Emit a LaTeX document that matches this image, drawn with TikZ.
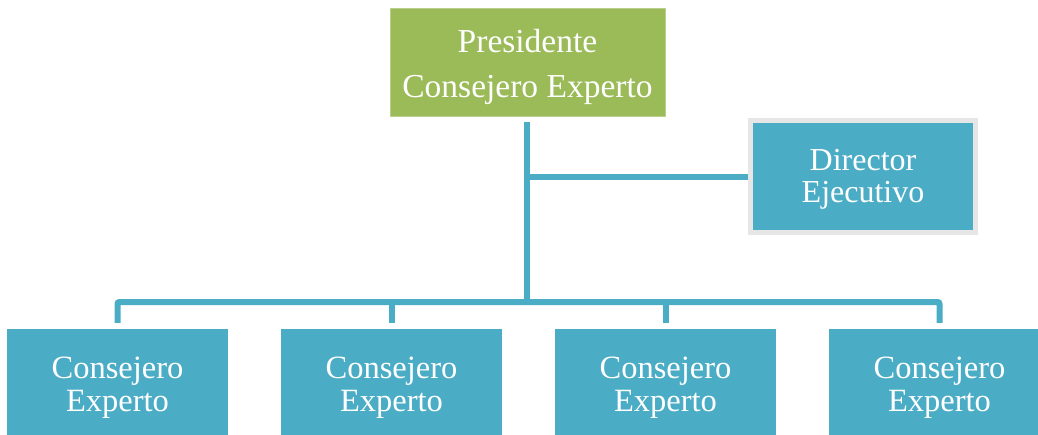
\documentclass[tikz,border=0pt]{standalone}
\usepackage{fontspec}
\setmainfont{Liberation Serif}
\definecolor{presgreen}{HTML}{9BBB59}
\definecolor{tealc}{HTML}{4BACC6}
\definecolor{framegray}{HTML}{E6E6E6}
\newcommand{\twolines}[3]{\raisebox{#1}[\height][\depth]{\begin{tabular}{@{}c@{}}#2\\#3\end{tabular}}}
\begin{document}
\begin{tikzpicture}[x=1pt,y=-1pt,
  greenbox/.style={fill=presgreen, draw=presgreen!70!white, line width=0.8pt, text=white,
    minimum width=275pt, minimum height=108pt, inner sep=0pt, font=\fontsize{33.5}{45}\selectfont},
  dirbox/.style={fill=tealc, draw=framegray, line width=5pt, text=white,
    minimum width=225pt, minimum height=112pt, inner sep=0pt, font=\fontsize{32}{32}\selectfont},
  expbox/.style={fill=tealc, text=white,
    minimum width=221pt, minimum height=118pt, inner sep=0pt, font=\fontsize{32.5}{33}\selectfont},
  conn/.style={draw=tealc, line width=6pt, rounded corners=2pt}]
\useasboundingbox (0,0) rectangle (1038,434);
\clip (0,0) rectangle (1038,434);
\node[greenbox] (pres) at (527.5,62) {\twolines{-3.5pt}{Presidente}{Consejero Experto}};
\node[dirbox] (dir) at (863,176.5) {\twolines{-3.5pt}{Director}{Ejecutivo}};
\node[expbox] (c1) at (117.5,388) {\twolines{0pt}{Consejero}{Experto}};
\node[expbox] (c2) at (391.5,388) {\twolines{0pt}{Consejero}{Experto}};
\node[expbox] (c3) at (665.5,388) {\twolines{0pt}{Consejero}{Experto}};
\node[expbox] (c4) at (939.5,388) {\twolines{0pt}{Consejero}{Experto}};
\coordinate (hub) at (527,302);
\draw[conn] ([yshift=-6pt]pres.south -| hub) -- (hub);
\draw[conn] (hub |- dir.west) -- (dir.west);
\draw[conn] ([yshift=6pt]c1.north) |- (hub) -| ([yshift=6pt]c4.north);
\draw[conn] ([yshift=6pt]c2.north) -- (c2.north |- hub);
\draw[conn] ([yshift=6pt]c3.north) -- (c3.north |- hub);
\end{tikzpicture}
\end{document}
